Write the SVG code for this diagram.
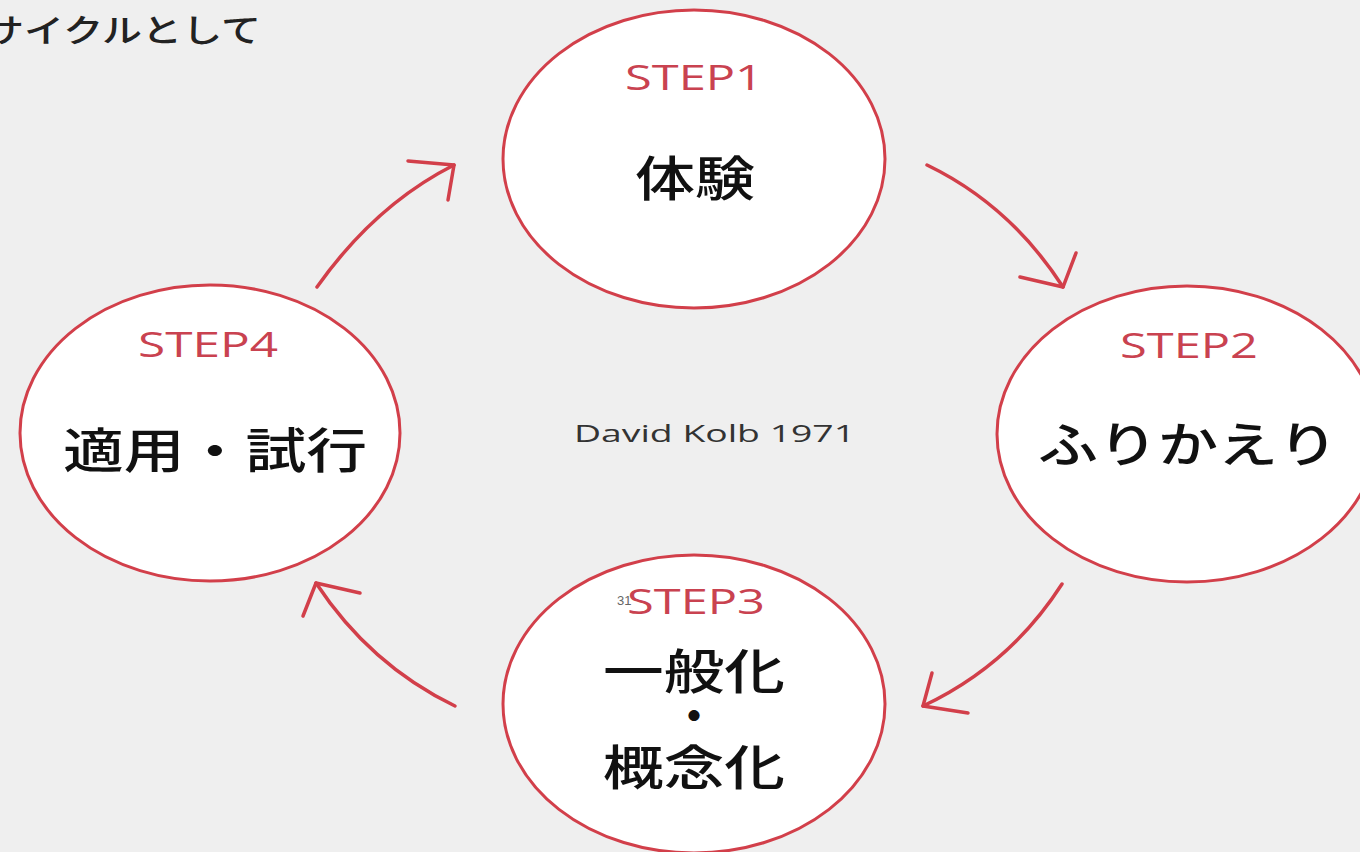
<svg xmlns="http://www.w3.org/2000/svg" width="1360" height="852" viewBox="0 0 1360 852">
<style>
.node{fill:#ffffff;stroke:#d23f4a;stroke-width:3}
.step{font-family:"Open Sans","Noto Sans",sans-serif;font-size:34px;fill:#c94250;text-anchor:start}
.main{font-family:"Noto Sans CJK JP",sans-serif;font-size:48px;fill:#111;font-weight:500}
.arr{fill:none;stroke:#d23f4a;stroke-width:3.5;stroke-linecap:round;stroke-linejoin:round}
</style>
<rect x="0" y="0" width="1360" height="852" fill="#efefef"/>
<text x="-16" y="42" font-family="Noto Sans CJK JP, sans-serif" font-size="32" font-weight="500" fill="#222" textLength="277" lengthAdjust="spacingAndGlyphs">サイクルとして</text>
<g id="connectors">
<path class="arr" d="M927,165 Q1010,205 1063,287"/>
<polyline class="arr" points="1020,277 1063,287 1076,253"/>
<path class="arr" d="M1062,584 Q1010,665 923,706"/>
<polyline class="arr" points="932,673 923,706 968,713"/>
<path class="arr" d="M455,706 Q370,665 316,583"/>
<polyline class="arr" points="303,616 316,583 360,593"/>
<path class="arr" d="M317,287 Q375,205 454,165"/>
<polyline class="arr" points="408,161 454,165 448,200"/>
</g>
<g id="step1">
<ellipse class="node" cx="694" cy="159" rx="191" ry="149"/>
<text class="step" x="625" y="90" textLength="138" lengthAdjust="spacingAndGlyphs">STEP1</text>
<text class="main" x="635" y="196" textLength="120" lengthAdjust="spacingAndGlyphs">体験</text>
</g>
<g id="step2">
<ellipse class="node" cx="1187" cy="434" rx="190" ry="148"/>
<text class="step" x="1120" y="358" textLength="138" lengthAdjust="spacingAndGlyphs">STEP2</text>
<text class="main" x="1038" y="462" textLength="300" lengthAdjust="spacingAndGlyphs">ふりかえり</text>
</g>
<g id="step3">
<ellipse class="node" cx="694" cy="704" rx="191" ry="149"/>
<text class="step" x="627" y="614" textLength="138" lengthAdjust="spacingAndGlyphs">STEP3</text>
<text class="main" x="603" y="689" textLength="182" lengthAdjust="spacingAndGlyphs">一般化</text>
<text class="main" x="694" y="733" text-anchor="middle" font-size="36">・</text>
<text class="main" x="603" y="785" textLength="182" lengthAdjust="spacingAndGlyphs">概念化</text>
</g>
<g id="step4">
<ellipse class="node" cx="210" cy="433" rx="190" ry="148"/>
<text class="step" x="138" y="357" textLength="140" lengthAdjust="spacingAndGlyphs">STEP4</text>
<text class="main" x="63" y="468" textLength="304" lengthAdjust="spacingAndGlyphs">適用・試行</text>
</g>
<text x="574" y="442" font-family="Open Sans, sans-serif" font-size="24" fill="#333" textLength="281" lengthAdjust="spacingAndGlyphs">David Kolb 1971</text>
<text x="617" y="605" font-family="Liberation Sans, sans-serif" font-size="13" fill="#666">31</text>
</svg>
